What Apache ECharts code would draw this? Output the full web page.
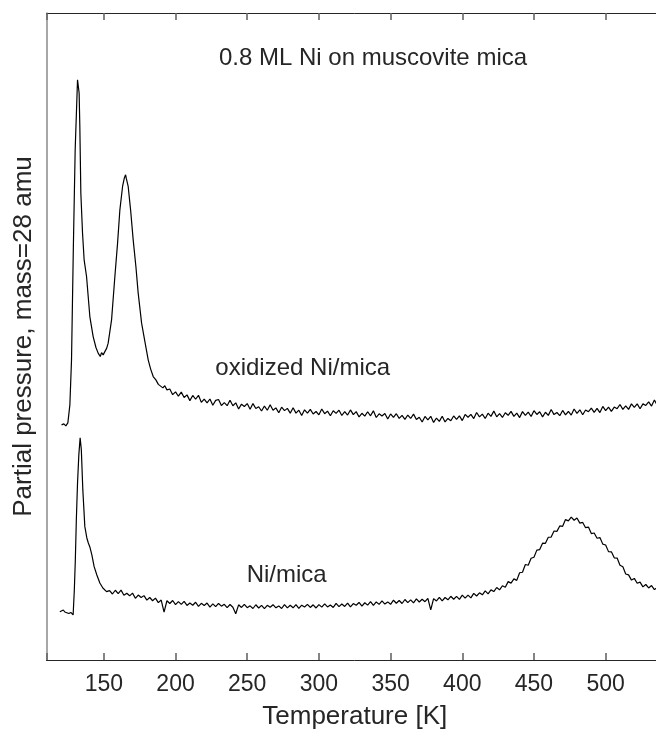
<!DOCTYPE html>
<html>
<head>
<meta charset="utf-8">
<script src="https://cdn.jsdelivr.net/npm/echarts@6/dist/echarts.min.js"></script>
<style>
html,body{margin:0;padding:0;background:#fff;overflow:hidden;width:656px;height:735px;}
#chart{width:663px;height:735px;}
</style>
</head>
<body>
<div id="chart"></div>
<script>
// Temperature tick labels (K)
const tickValues = [150, 200, 250, 300, 350, 400, 450, 500];

// Annotation texts
const titleText = '0.8 ML Ni on muscovite mica';
const labelOxidized = 'oxidized Ni/mica';
const labelNi = 'Ni/mica';

// Series: oxidized Ni/mica  [temperature K, partial pressure (arb. units)]
const oxidizedNiMica = [
[120.5,36.34],[122.1,36.49],[123.5,36.18],[124.9,36.65],[126.3,39.43],[127.45,46.39],[128.7,63.4],[130.0,78.86],[131.64,89.69],[132.76,87.63],[133.25,82.47],[133.95,72.17],[135.13,66.0],[136.25,61.85],[137.93,59.27],[140.23,53.08],[142.54,49.99],[144.5,48.3],[146.03,47.43],[147.5,46.9],[148.4,47.5],[149.52,47.16],[150.8,47.7],[152.0,48.2],[153.01,48.97],[155.38,52.57],[157.69,59.27],[159.57,64.43],[161.18,69.58],[163.06,73.19],[164.3,74.5],[165.16,75.0],[165.7,74.4],[166.97,73.19],[168.65,69.58],[170.46,64.94],[172.35,60.82],[173.95,56.7],[176.33,52.06],[178.63,49.22],[180.93,46.39],[182.6,45.0],[184.42,43.81],[186.3,43.3],[188.0,42.6],[189.1,42.9],[191.2,42.06],[192.5,42.4],[194.0,41.75],
[196,41.88],[198,41.01],[200,41.44],[202,40.77],[204,41.40],[206,40.57],[208,40.98],[210,40.09],[212,40.89],[214,40.30],[216,40.91],[218,39.82],[220,40.32],[222,39.73],[224,40.34],[226,39.38],[228,40.13],[230,40.27],[232,39.32],[234,39.77],[236,39.31],[238,40.16],[240,39.30],[242,39.75],[244,38.79],[246,39.54],[248,39.18],[250,39.63],[252,38.77],[254,39.63],[256,38.88],[258,39.14],[260,38.49],[262,39.25],[264,38.60],[266,39.46],[268,38.61],[270,38.97],[272,38.22],[274,39.08],[276,38.54],[278,38.89],[280,38.15],[282,39.00],[284,38.16],[286,38.61],[288,37.78],[290,38.67],[292,38.16],[294,38.74],[296,38.03],[298,38.41],[300,37.90],[302,38.79],[304,38.07],[306,38.46],[308,37.75],[310,38.53],[312,38.12],[314,38.61],[316,37.79],[318,38.38],[320,37.86],[322,38.65],[324,37.92],[326,38.39],[328,37.56],[330,38.13],[332,37.70],[334,38.37],[336,37.74],[338,38.51],[340,37.48],[342,38.05],[344,37.72],[346,38.09],[348,37.26],[350,38.03],[352,37.50],[354,38.07],[356,37.34],[358,37.80],[360,37.18],[362,37.86],[364,37.33],[366,38.00],[368,37.16],[370,37.52],[372,36.78],[374,37.64],[376,37.10],[378,37.66],[380,36.72],[382,37.40],[384,36.88],[386,37.68],[388,36.80],[390,37.33],[392,36.97],[394,37.72],[396,37.18],[398,37.74],[400,37.00],[402,37.96],[404,37.52],[406,37.97],[408,37.31],[410,38.25],[412,37.58],[414,38.01],[416,37.33],[418,38.15],[420,37.66],[422,38.47],[424,37.58],[426,38.08],[428,37.49],[430,38.21],[432,37.82],[434,38.43],[436,37.65],[438,38.16],[440,37.47],[442,38.39],[444,37.80],[446,38.31],[448,37.63],[450,38.54],[452,37.95],[454,38.37],[456,37.58],[458,38.29],[460,37.81],[462,38.72],[464,37.93],[466,38.25],[468,37.76],[470,38.57],[472,37.89],[474,38.41],[476,37.85],[478,38.79],[480,38.13],[482,38.67],[484,37.91],[486,38.65],[488,38.38],[490,38.92],[492,38.26],[494,38.90],[496,38.24],[498,39.19],[500,38.54],[502,39.09],[504,38.44],[506,39.09],[508,38.84],[510,39.49],[512,38.74],[514,39.29],[516,38.74],[518,39.59],[520,39.04],[522,39.59],[524,38.84],[526,39.59],[528,39.34],[530,39.89],[532,39.24],[534,40.19],[535.4,39.6]
];

// Series: Ni/mica  [temperature K, partial pressure (arb. units)]
const niMica = [
[119.29,7.47],[120.68,7.35],[121.73,7.73],[122.78,7.42],[124.17,7.58],[125.57,7.19],[126.97,7.35],[128.57,6.96],[129.41,10.82],[130.11,15.46],[130.81,21.65],[131.64,27.37],[132.55,31.70],[133.46,34.33],[134.30,32.47],[135.34,26.29],[136.74,20.61],[138.14,18.86],[139.18,18.09],[140.23,17.47],[141.63,16.24],[143.23,14.43],[145.12,13.14],[147.21,11.91],[149.31,11.13],[151.89,10.56],
[154,10.73],[156,10.20],[158,10.78],[160,10.25],[162,10.80],[164,10.01],[166,10.32],[168,9.92],[170,10.33],[172,9.54],[174,10.04],[176,9.65],[178,9.95],[180,9.25],[182,9.66],[184,9.16],[186,9.56],[188,8.87],[190,9.27],[192,7.40],[194,9.16],[196,8.73],[198,9.20],[200,8.56],[202,9.03],[204,8.60],[206,9.06],[208,8.43],[210,8.80],[212,8.46],[214,8.93],[216,8.30],[218,8.76],[220,8.43],[222,8.80],[224,8.18],[226,8.67],[228,8.25],[230,8.74],[232,8.32],[234,8.61],[236,8.09],[238,8.58],[240,8.16],[242,7.15],[244,8.53],[246,8.12],[248,8.60],[250,8.09],[252,8.37],[254,7.96],[256,8.54],[258,8.04],[260,8.44],[262,7.95],[264,8.45],[266,8.15],[268,8.55],[270,8.06],[272,8.36],[274,7.96],[276,8.56],[278,8.06],[280,8.47],[282,8.07],[284,8.57],[286,7.97],[288,8.48],[290,8.19],[292,8.60],[294,8.12],[296,8.53],[298,8.04],[300,8.56],[302,8.17],[304,8.68],[306,8.20],[308,8.51],[310,8.12],[312,8.74],[314,8.25],[316,8.66],[318,8.28],[320,8.79],[322,8.20],[324,8.73],[326,8.46],[328,8.89],[330,8.32],[332,8.85],[334,8.48],[336,9.01],[338,8.44],[340,8.97],[342,8.60],[344,9.13],[346,8.65],[348,8.98],[350,8.61],[352,9.24],[354,8.77],[356,9.20],[358,8.73],[360,9.35],[362,8.87],[364,9.30],[366,8.82],[368,9.44],[370,8.97],[372,9.39],[374,9.01],[376,9.54],[378,7.76],[380,9.49],[382,9.13],[384,9.68],[386,9.12],[388,9.66],[390,9.31],[392,9.85],[394,9.39],[396,9.84],[398,9.38],[400,10.02],[402,9.57],[404,10.02],[406,9.61],[408,10.30],[410,9.89],[412,10.38],[414,10.07],[416,10.68],[418,10.21],[420,10.84],[422,10.58],[424,11.21],[426,10.84],[428,11.48],[430,11.25],[432,12.11],[434,11.88],[436,12.54],[438,12.31],[440,13.49],[442,13.56],[444,14.76],[446,14.65],[448,15.72],[450,15.89],[452,16.98],[454,17.07],[456,18.06],[458,18.04],[460,18.97],[462,19.00],[464,19.94],[466,19.88],[468,20.72],[470,20.66],[472,21.70],[474,21.50],[476,22.08],[478,21.60],[480,21.95],[482,21.15],[484,21.26],[486,20.45],[488,20.54],[490,19.54],[492,19.63],[494,18.82],[496,18.92],[498,17.91],[500,17.78],[502,16.75],[504,16.72],[506,15.79],[508,15.76],[510,14.64],[512,14.41],[514,13.29],[516,13.16],[518,12.35],[520,12.61],[522,11.87],[524,12.04],[526,11.30],[528,11.67],[530,11.14],[532,11.51],[534,10.88],[535.4,11.1]
];

const FONT = '"Liberation Sans", Arial, Helvetica, sans-serif';
const TXT = '#262626';

const chart = echarts.init(document.getElementById('chart'), null, {renderer: 'canvas'});

function xAxisBase(pos) {
  return {
    type: 'value', position: pos, min: 110, max: 540,
    minInterval: 50, maxInterval: 50, splitNumber: 9,
    axisLine: {show: true, onZero: false, lineStyle: {color: TXT, width: 1}},
    axisTick: {show: true, inside: true, length: 7, lineStyle: {color: '#666666', width: 1.6}},
    splitLine: {show: false}
  };
}

const xBottom = Object.assign(xAxisBase('bottom'), {
  axisLabel: {show: true, customValues: tickValues,
              fontSize: 23, color: TXT, fontFamily: FONT, margin: 13},
  name: 'Temperature [K]', nameLocation: 'middle', nameGap: 44,
  nameTextStyle: {fontSize: 26, color: TXT, fontFamily: FONT}
});
const xTop = Object.assign(xAxisBase('top'), {axisLabel: {show: false}});

chart.setOption({
  animation: false,
  backgroundColor: '#ffffff',
  grid: {left: 46.5, right: 0, top: 13, bottom: 75, containLabel: false},
  xAxis: [xBottom, xTop],
  yAxis: {
    type: 'value', min: 0, max: 100,
    axisLine: {show: true, onZero: false, lineStyle: {color: '#8a8a8a', width: 1.5}},
    axisTick: {show: false}, axisLabel: {show: false}, splitLine: {show: false},
    name: 'Partial pressure, mass=28 amu', nameLocation: 'middle', nameGap: 10,
    nameTextStyle: {fontSize: 26, color: TXT, fontFamily: FONT}
  },
  graphic: [
    {type: 'text', x: 373, y: 58, style: {text: titleText, font: '24px ' + FONT, fill: TXT, textAlign: 'center', textVerticalAlign: 'middle', align: 'center', verticalAlign: 'middle'}},
    {type: 'text', x: 302.7, y: 368, style: {text: labelOxidized, font: '24px ' + FONT, fill: TXT, textAlign: 'center', textVerticalAlign: 'middle', align: 'center', verticalAlign: 'middle'}},
    {type: 'text', x: 286.7, y: 575.5, style: {text: labelNi, font: '24px ' + FONT, fill: TXT, textAlign: 'center', textVerticalAlign: 'middle', align: 'center', verticalAlign: 'middle'}}
  ],
  series: [
    {name: labelOxidized, type: 'line', xAxisIndex: 0, data: oxidizedNiMica, showSymbol: false, symbol: 'none',
     lineStyle: {color: '#000', width: 1.2}, silent: true},
    {name: labelNi, type: 'line', xAxisIndex: 0, data: niMica, showSymbol: false, symbol: 'none',
     lineStyle: {color: '#000', width: 1.2}, silent: true}
  ]
});
</script>
</body>
</html>
